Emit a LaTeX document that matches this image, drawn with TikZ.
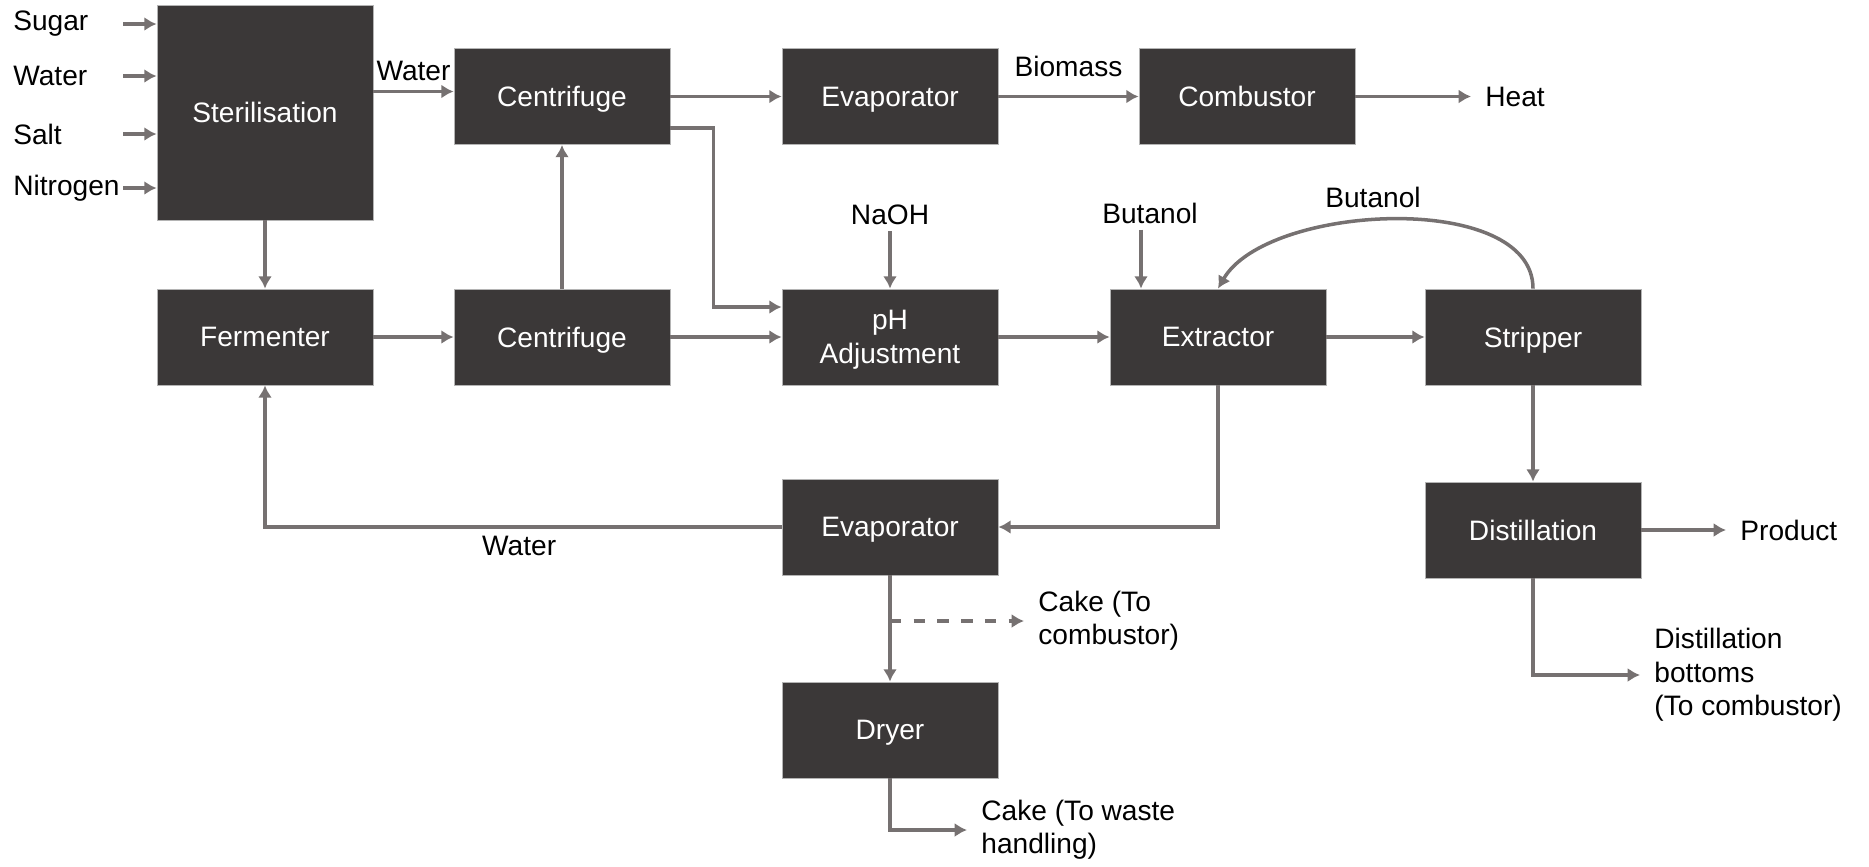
\documentclass[tikz,border=0pt]{standalone}
\usepackage{fontspec}
\setmainfont{Liberation Sans}
\usepackage{tikz}
\usetikzlibrary{positioning,calc,arrows.meta}
\definecolor{boxfill}{HTML}{3B3838}
\definecolor{boxline}{HTML}{B4B4B4}
\definecolor{pipe}{HTML}{767171}
\tikzstyle{unit}=[draw=boxline, fill=boxfill, text=white, line width=0.5pt,
        align=center, text depth=0pt, minimum width=4.32cm, minimum height=1.92cm]
\tikzstyle{stream}=[draw=pipe, line width=2pt, -{Latex[length=7pt, width=8pt]}]
\tikzstyle{feed}=[anchor=west, inner sep=0pt]
\tikzstyle{outlet}=[anchor=west, align=left, inner xsep=8pt, inner ysep=2pt]

\begin{document}
\begin{tikzpicture}[x=0.02cm, y=-0.02cm, font=\fontsize{16}{19}\selectfont]
        \useasboundingbox (0,0) rectangle (1869,866);

        % process units
        \node[unit, minimum height=4.3cm] (steril) at (265,112.5) {Sterilisation};
        \node[unit] (ferm) at (265,337) {Fermenter};
        \node[unit] (cent1) at (562,96.5) {Centrifuge};
        \node[unit] (cent2) at (562,337) {Centrifuge};
        \node[unit] (evap1) at (890,96.5) {Evaporator};
        \node[unit] (ph) at (890,337) {pH\\Adjustment};
        \node[unit] (comb) at (1247,96.5) {Combustor};
        \node[unit] (extr) at (1218,337) {Extractor};
        \node[unit] (strip) at (1533,337) {Stripper};
        \node[unit] (dist) at (1533,530) {Distillation};
        \node[unit] (evap2) at (890,527) {Evaporator};
        \node[unit] (dryer) at (890,730) {Dryer};

        % feeds
        \node[feed] (sugar) at (13,24) {Sugar};
        \node[feed] (water) at (13,76) {Water};
        \node[feed] (salt) at (13,134) {Salt};
        \node[feed] (nitro) at (13,188) {Nitrogen};
        \coordinate (sugar-in) at (123,24);
        \coordinate (water-in) at (123,76);
        \coordinate (salt-in) at (123,134);
        \coordinate (nitro-in) at (123,188);
        \node (naoh) at (890,215) {NaOH};
        \node (but1) at (1150,213) {Butanol};
        \node (but2) at (1373,197) {Butanol};

        % products
        \node[outlet] (heat) at (1471,96.5) {Heat};
        \node[outlet] (product) at (1726,530) {Product};
        \node[outlet] (bottoms) at (1640,675) {Distillation\\bottoms\\(To combustor)};
        \node[outlet] (cakec) at (1024,621) {Cake (To\\combustor)};
        \node[outlet] (cakew) at (967,830) {Cake (To waste\\handling)};

        \draw[stream] (sugar-in) -- (sugar-in -| steril.west);
        \draw[stream] (water-in) -- (water-in -| steril.west);
        \draw[stream] (salt-in) -- (salt-in -| steril.west);
        \draw[stream] (nitro-in) -- (nitro-in -| steril.west);

        \draw[stream] ($(steril.east |- cent1.west)+(0,-5)$) to node[above=2pt]
            (wtop) {Water} ($(cent1.west)+(0,-5)$);
        \draw[stream] (steril) -- (ferm);
        \draw[stream] (ferm) -- (cent2);
        \draw[stream] (cent2) -- (cent1);
        \draw[stream] (cent1) -- (evap1);
        \draw[stream] ($(cent1.east)+(0,31.5)$) -- ++(43,0) |- ($(ph.west)+(0,-30)$);
        \draw[stream] (cent2) -- (ph);
        \draw[stream] (evap1) to node[above=7pt] (biomass) {Biomass} (comb);
        \draw[stream] (comb) -- (heat);
        \draw[stream] (naoh) -- (ph);
        \draw[stream] (ph) -- (extr);
        \draw[stream] ($(but1.south)+(-9,0)$) -- ($(but1.south |- extr.north)+(-9,0)$);
        \draw[stream] (extr) -- (strip);
        \draw[stream] (strip.north) to[out=90, in=60, looseness=0.8] (extr.north);
        \draw[stream] (strip) -- (dist);
        \draw[stream] (dist) -- (product);
        \draw[stream] (dist.south) |- (bottoms.west);
        \draw[stream] (extr.south) |- (evap2.east);
        \draw[stream] (evap2.west) -| node[pos=0.254, below=1pt] (wlow) {Water} (ferm.south);
        \draw[stream] (evap2) -- (dryer);
        \draw[stream, dash pattern=on 6.5pt off 7pt] (evap2.south |- cakec.west) -- (cakec.west);
        \draw[stream] (dryer.south) |- (cakew.west);

    \end{tikzpicture}
\end{document}
